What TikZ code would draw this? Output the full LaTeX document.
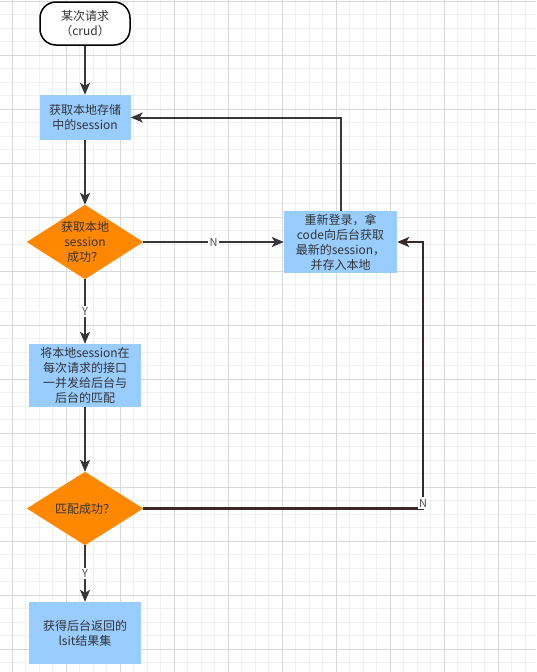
\documentclass[tikz,border=0pt]{standalone}
\usepackage{fontspec}
\setmainfont{Noto Sans CJK SC}
\usetikzlibrary{arrows.meta,backgrounds}
\definecolor{boxblue}{RGB}{153,204,255}
\definecolor{dorange}{RGB}{255,136,0}
\definecolor{txt}{RGB}{51,51,51}
\definecolor{lineg}{RGB}{55,55,55}
\definecolor{lineb}{RGB}{58,40,40}
\definecolor{gridminor}{RGB}{240,240,240}
\definecolor{gridmajor}{RGB}{216,216,216}
\definecolor{lbltxt}{RGB}{80,80,80}
\begin{document}
\begin{tikzpicture}[x=1pt,y=-1pt,
  every node/.style={font=\fontsize{12}{15}\selectfont, text=txt, align=center, inner sep=0pt},
  term/.style={rectangle, rounded corners=16pt, draw=black, line width=1.5pt, fill=white, minimum width=90pt, minimum height=43pt},
  proc/.style={rectangle, fill=boxblue},
  dec/.style={rectangle, minimum width=116pt, minimum height=74pt},
  conn/.style={draw=lineg, line width=2pt, -{Stealth[length=12pt,width=10pt,inset=3pt]}},
  connb/.style={draw=lineb, line width=2.6pt, -{Stealth[length=12pt,width=10pt,inset=3pt]}},
  lbl/.style={fill=white, font=\fontsize{11}{13}\selectfont, text=lbltxt, inner sep=1.5pt}]
\useasboundingbox (0,0) rectangle (536,672);

% nodes
\node[term] (start) at (85,23.5) {某次请求\\（crud）};
\node[proc, minimum width=91pt, minimum height=45pt] (box1) at (85,117.5) {获取本地存储\\中的session};
\node[dec] (d1) at (85,242) {获取本地\\session\\成功？};
\node[proc, minimum width=112pt, minimum height=63pt] (box2) at (85,375.5) {将本地session在\\每次请求的接口\\一并发给后台与\\后台的匹配};
\node[dec, minimum height=73pt] (d2) at (85,508.5) {匹配成功？};
\node[proc, minimum width=112pt, minimum height=62pt] (box3) at (85,633) {获得后台返回的\\lsit结果集};
\node[proc, minimum width=113pt, minimum height=62pt] (box4) at (340.5,242) {重新登录，拿\\code向后台获取\\最新的session，\\并存入本地};
\coordinate (c2) at (423,508.5);

% background: grid and diamond fills
\begin{scope}[on background layer]
  \fill[white] (0,0) rectangle (536,672);
  \foreach \k in {0,...,38} {
    \pgfmathsetmacro{\xx}{12+13.5*\k}
    \draw[gridminor, line width=0.6pt] (\xx,0) -- (\xx,672);
  }
  \foreach \k in {0,...,49} {
    \pgfmathsetmacro{\yy}{1+13.5*\k}
    \draw[gridminor, line width=0.6pt] (0,\yy) -- (536,\yy);
  }
  \foreach \k in {0,...,9} {
    \pgfmathsetmacro{\xx}{12+54*\k}
    \draw[gridmajor, line width=0.8pt] (\xx,0) -- (\xx,672);
  }
  \foreach \k in {0,...,12} {
    \pgfmathsetmacro{\yy}{1+54*\k}
    \draw[gridmajor, line width=0.8pt] (0,\yy) -- (536,\yy);
  }
  \fill[dorange] (d1.west) -- (d1.north) -- (d1.east) -- (d1.south) -- cycle;
  \fill[dorange] (d2.west) -- (d2.north) -- (d2.east) -- (d2.south) -- cycle;
\end{scope}

% connectors
\draw[conn] (start) -- (box1);
\draw[conn] (box1) -- (d1);
\draw[conn] (d1) -- node[lbl] (y1) {Y} (box2);
\draw[conn] (box2) -- (d2);
\draw[conn] (d2) -- node[lbl] (y2) {Y} (box3);
\draw[conn] (d1) -- node[lbl] (n1) {N} (box4);
\draw[conn] (box4) |- (box1);
\draw[connb] (d2.east) -- (c2) |- (box4.east);
\node[lbl] (n2) at (423,503) {N};
\end{tikzpicture}
\end{document}
